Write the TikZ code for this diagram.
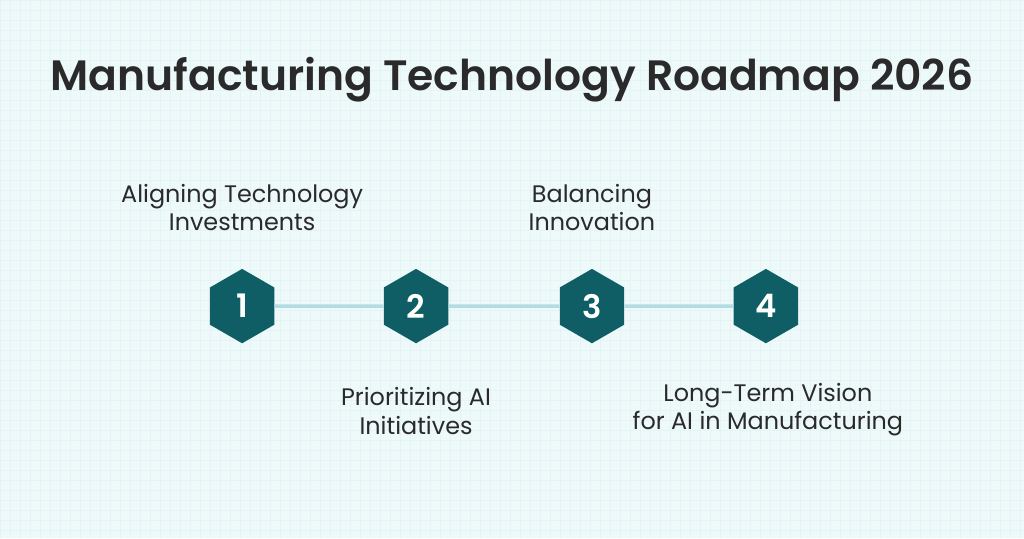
\documentclass[tikz,border=0pt]{standalone}
\usepackage{fontspec}
\setmainfont{Poppins}[BoldFont={* SemiBold}]
\usepackage{tikz}
\usetikzlibrary{shapes.geometric, positioning}
\definecolor{bgpaper}{HTML}{EEF9FA}
\definecolor{gridline}{HTML}{E4F3F4}
\definecolor{hexteal}{HTML}{0F5E66}
\definecolor{linkblue}{HTML}{B3DDE3}
\definecolor{inkdark}{HTML}{2A2A2A}
\tikzstyle{stage}  = [regular polygon, regular polygon sides=6, shape border rotate=30,
                      minimum size=1.86cm, inner sep=0pt, fill=hexteal, text=white,
                      font=\fontsize{23}{25}\selectfont\bfseries]
\tikzstyle{label}  = [align=center, text=inkdark, font=\fontsize{17}{20}\selectfont]
\tikzstyle{link}   = [line width=2.6pt, draw=linkblue]

\begin{document}
\begin{tikzpicture}[x=0.025cm, y=-0.025cm]
  \fill[bgpaper] (0,0) rectangle (1024,538);
  \draw[gridline, line width=0.3pt, step=0.25cm] (0,0) grid (1024,538);
  \useasboundingbox (0,0) rectangle (1024,538);

  \node[text=inkdark, font=\fontsize{30.2}{34}\selectfont\bfseries] (title) at (512,79)
    {Manufacturing Technology Roadmap 2026};

  % stages
  \node[stage] (s1) at (242,306) {1};
  \node[stage] (s2) at (416,306) {2};
  \node[stage] (s3) at (592,306) {3};
  \node[stage] (s4) at (766,306) {4};
  \draw[link] (s1) -- (s2);
  \draw[link] (s2) -- (s3);
  \draw[link] (s3) -- (s4);

  % labels
  \node[label] (l1) at (242,207) {Aligning Technology\\Investments};
  \node[label] (l2) at (416,411) {Prioritizing AI\\Initiatives};
  \node[label] (l3) at (592,207) {Balancing\\Innovation};
  \node[label] (l4) at (768,410) {Long-Term Vision\\for AI in Manufacturing};
\end{tikzpicture}
\end{document}
